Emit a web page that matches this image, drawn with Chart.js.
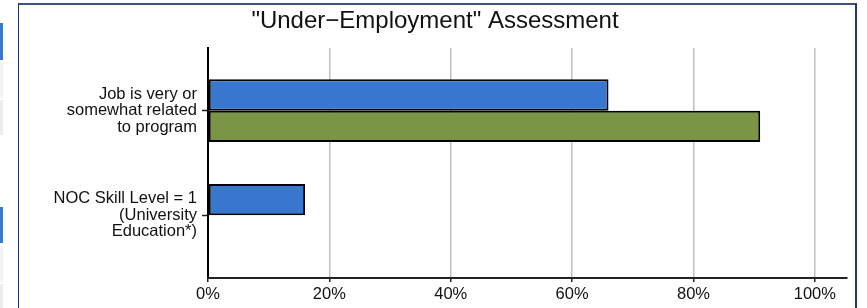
<!DOCTYPE html>
<html>
<head>
<meta charset="utf-8">
<script src="https://cdn.jsdelivr.net/npm/chart.js@4"></script>
<style>
  html, body { margin: 0; padding: 0; background: #fff; }
  #wrap { position: relative; width: 867px; height: 308px; overflow: hidden; }
  #wrap canvas { position: absolute; left: 0; top: 0; }
  .deco { position: absolute; }
</style>
</head>
<body>
<div id="wrap">
  <canvas id="c" width="867" height="308"></canvas>
  <div class="deco" style="left:18px;top:3px;width:838px;height:2px;background:#3b5483;"></div>
  <div class="deco" style="left:18px;top:3px;width:1px;height:305px;background:#1d3461;"></div>
  <div class="deco" style="left:855px;top:3px;width:2px;height:305px;background:#1f3a68;"></div>
  <div class="deco" style="left:0;top:23px;width:3px;height:37px;background:#3a78d0;"></div>
  <div class="deco" style="left:0;top:62px;width:3px;height:36px;background:#f3f3f3;"></div>
  <div class="deco" style="left:0;top:100px;width:3px;height:35px;background:#ececec;"></div>
  <div class="deco" style="left:0;top:207px;width:3px;height:36px;background:#3a78d0;"></div>
  <div class="deco" style="left:0;top:246px;width:3px;height:36px;background:#f3f3f3;"></div>
  <div class="deco" style="left:0;top:284px;width:3px;height:24px;background:#ececec;"></div>
</div>
<script>
const title = '"Under\u2212Employment" Assessment';
const categories = [
  ['Job is very or', 'somewhat related', 'to program'],
  ['NOC Skill Level = 1', '(University', 'Education*)']
];
const seriesNames = ['Series 1', 'Series 2'];
const blueValues = [66, 16];
const greenValues = [91, 0];
const xTicks = [0, 20, 40, 60, 80, 100];

const toPoints = vals => vals.map((v, i) => ({ x: v, y: i }));
const FONT = 'Liberation Sans, Arial, sans-serif';
const PAD_LEFT = 23;

new Chart(document.getElementById('c'), {
  type: 'bar',
  data: {
    datasets: [
      { label: seriesNames[0], data: toPoints(blueValues), backgroundColor: '#3777cf', borderColor: '#000', borderWidth: 2 },
      { label: seriesNames[1], data: toPoints(greenValues), backgroundColor: '#7a9644', borderColor: '#000', borderWidth: 2 }
    ]
  },
  options: {
    indexAxis: 'y',
    responsive: false,
    animation: false,
    layout: { padding: { left: PAD_LEFT, right: 20, top: 0, bottom: 0 } },
    datasets: { bar: { categoryPercentage: 0.6, barPercentage: 1.0, borderSkipped: false } },
    plugins: {
      legend: { display: false },
      tooltip: { enabled: false },
      title: {
        display: true, text: title, color: '#111',
        font: { family: FONT, size: 24, weight: 'normal', lineHeight: 1.2 },
        padding: { top: 6.5, bottom: 12.7 }
      }
    },
    scales: {
      y: {
        type: 'linear', reverse: true, min: -0.6, max: 1.6, offset: false,
        afterBuildTicks: s => { s.ticks = categories.map((c, i) => ({ value: i })); },
        afterFit: s => { s.width = 208 - PAD_LEFT; },
        border: { display: true, color: '#000', width: 2 },
        grid: { offset: false, drawOnChartArea: false, drawTicks: true, tickLength: 6, tickColor: '#222', tickWidth: 1.5 },
        ticks: {
          color: '#111', padding: 5,
          font: { family: FONT, size: 16.5, lineHeight: 1.0 },
          callback: v => categories[v]
        }
      },
      x: {
        type: 'linear', min: 0, max: 105.3, offset: false,
        afterBuildTicks: s => { s.ticks = xTicks.map(v => ({ value: v })); },
        afterFit: s => { s.height = 30; },
        border: { display: true, color: '#222', width: 2 },
        grid: { offset: false, color: '#bfbfbf', lineWidth: 1.5, drawTicks: true, tickLength: 4, tickColor: '#222', tickWidth: 1.5 },
        ticks: {
          color: '#111', padding: 3, maxRotation: 0,
          font: { family: FONT, size: 16.5 },
          callback: v => v + '%'
        }
      }
    }
  }
});
</script>
</body>
</html>
